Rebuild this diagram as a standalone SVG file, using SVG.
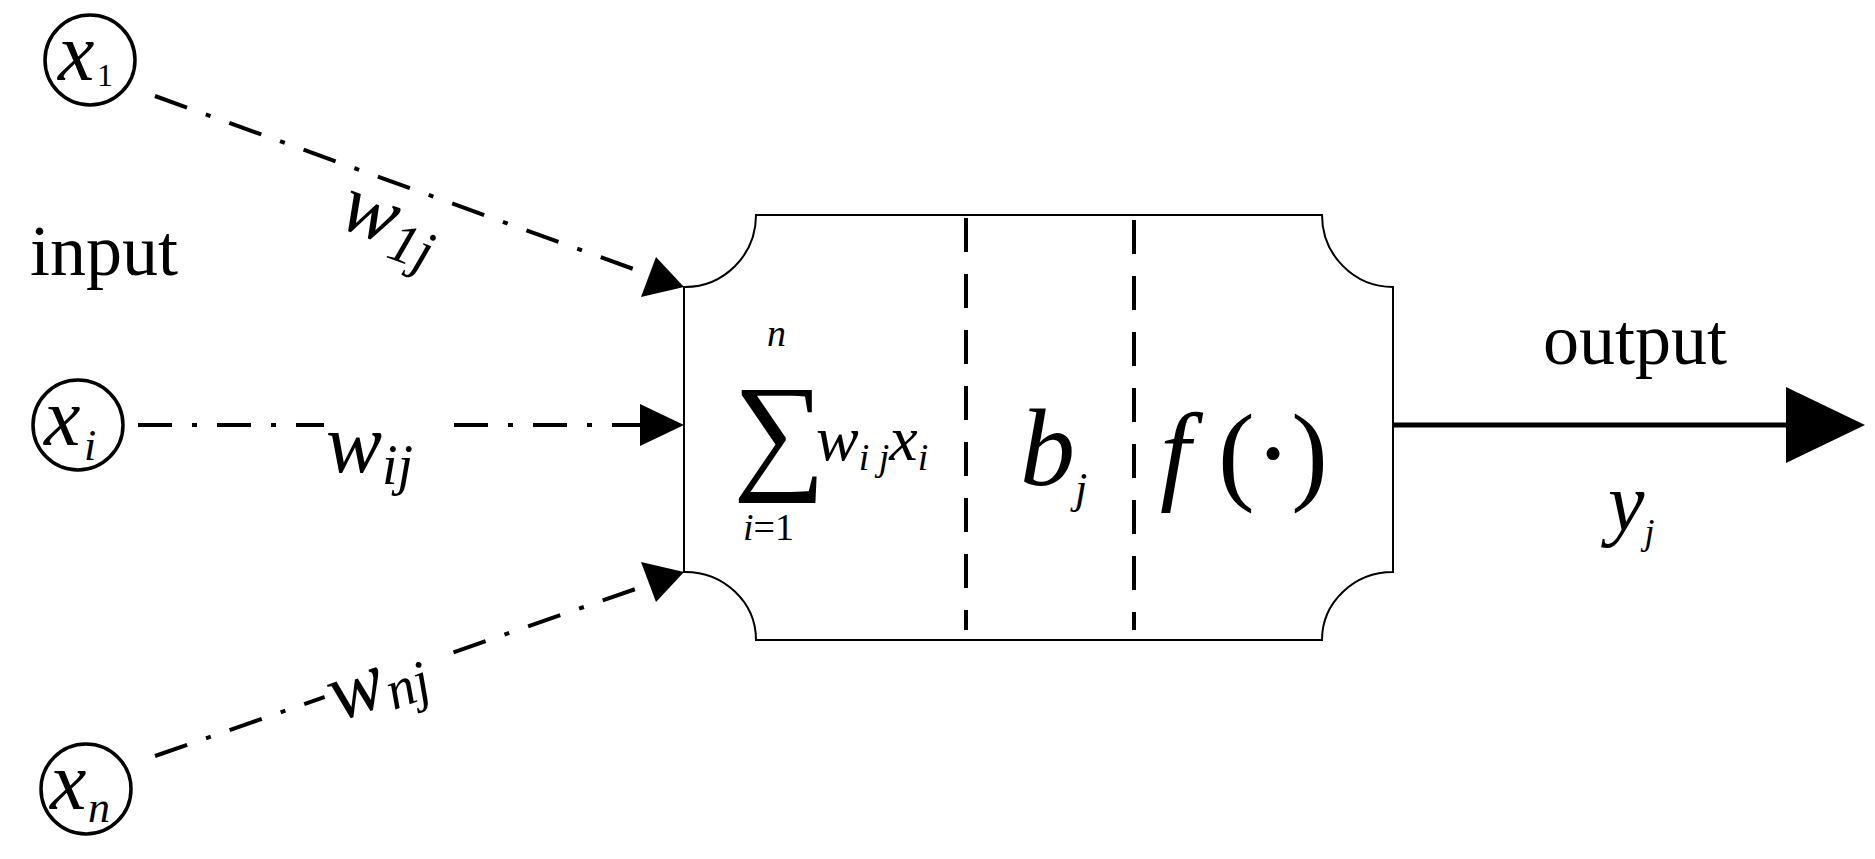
<svg xmlns="http://www.w3.org/2000/svg" width="1875" height="859" viewBox="0 0 1875 859">
<style>
text{font-family:"Liberation Serif","DejaVu Serif","Times New Roman",serif;fill:#000}
.it{font-style:italic}
.c{fill:#fff;stroke:#000;stroke-width:3.5}
.dd{stroke:#000;stroke-width:4;fill:none;stroke-dasharray:34 20 5 20}
.dash{stroke:#000;stroke-width:4;stroke-dasharray:34 22}
</style>
<rect width="1875" height="859" fill="#fff"/>
<g id="connectors">
<line class="dd" x1="155" y1="96" x2="650" y2="275"/>
<path d="M684,287 L641,297 L656,257 Z"/>
<line class="dd" x1="138" y1="425" x2="640" y2="425"/>
<path d="M684,425 L640,404 L640,446 Z"/>
<line class="dd" x1="155" y1="756" x2="650" y2="584"/>
<path d="M684,572 L641,562 L656,602 Z"/>
<line x1="1393" y1="425" x2="1800" y2="425" stroke="#000" stroke-width="5"/>
<path d="M1865,425 L1786,387 L1786,463 Z"/>
</g>
<g id="x1"><circle class="c" cx="90" cy="60" r="45"/><text class="it" x="58" y="80" font-size="82">x</text><text x="97" y="86" font-size="32">1</text></g>
<g id="xi"><circle class="c" cx="78" cy="425" r="45"/><text class="it" x="44" y="445" font-size="82">x</text><text class="it" x="84" y="460" font-size="44">i</text></g>
<g id="xn"><circle class="c" cx="86" cy="789" r="45"/><text class="it" x="50" y="809" font-size="82">x</text><text class="it" x="88" y="822" font-size="44">n</text></g>
<text x="30" y="275" font-size="72">input</text>
<text x="1543" y="364" font-size="72">output</text>
<text class="it" x="1608" y="530" font-size="82">y<tspan font-size="36" dy="14">j</tspan></text>
<g transform="translate(336,226) rotate(20)"><rect x="-4" y="-48" width="118" height="72" fill="#fff"/><text class="it" font-size="84">w<tspan font-size="56" dy="12">1j</tspan></text></g>
<g><rect x="324" y="405" width="120" height="40" fill="#fff"/><text class="it" x="326" y="472" font-size="84">w<tspan font-size="56" dy="12">ij</tspan></text></g>
<g transform="translate(338,722) rotate(-20)"><rect x="-4" y="-48" width="118" height="66" fill="#fff"/><text class="it" font-size="84">w<tspan font-size="56" dy="8">nj</tspan></text></g>
<g id="neuron">
<path d="M756,215 H1322 A71,72 0 0 0 1393,287 V572 A71,68 0 0 0 1322,640 H756 A71,68 0 0 0 684,572 V287 A71,72 0 0 0 756,215 Z" fill="#fff" stroke="#000" stroke-width="2"/>
<line class="dash" x1="966" y1="218" x2="966" y2="630"/>
<line class="dash" x1="1134" y1="220" x2="1134" y2="630"/>
<text x="733" y="475" font-size="130">∑</text>
<text class="it" x="767" y="346" font-size="38">n</text>
<text x="743" y="540" font-size="38"><tspan class="it">i</tspan>=1</text>
<text class="it" x="816" y="460" font-size="64">w<tspan font-size="38" dy="10">i j</tspan><tspan font-size="64" dy="-10">x</tspan><tspan font-size="38" dy="10">i</tspan></text>
<text class="it" x="1020" y="485" font-size="110">b<tspan font-size="44" dy="18">j</tspan></text>
<text x="1160" y="490" font-size="110"><tspan class="it">f</tspan> (·)</text>
</g>
</svg>
